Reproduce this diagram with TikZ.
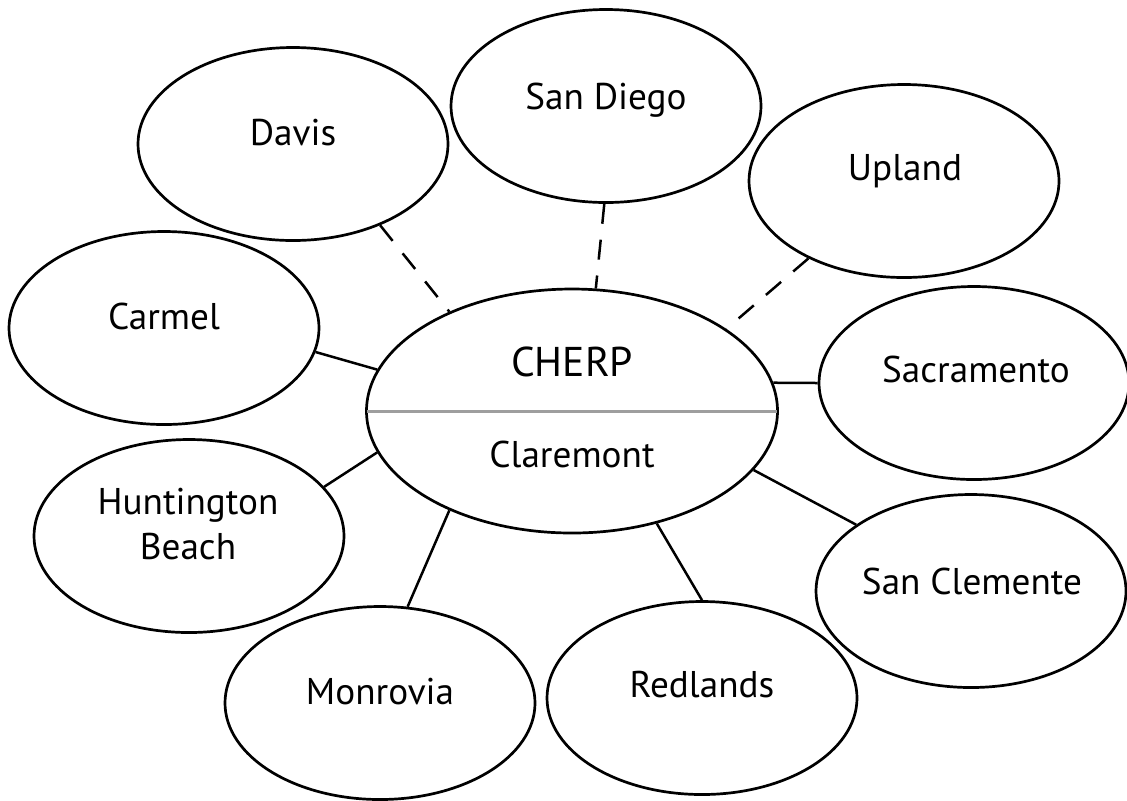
\documentclass[tikz,border=0pt]{standalone}
\usepackage{fontspec}
\setmainfont{PT Sans}
\usetikzlibrary{shapes.geometric}
\begin{document}
\begin{tikzpicture}[x=0.5pt,y=-0.5pt,
  city/.style={draw, ellipse, line width=1.35pt, minimum width=155pt, minimum height=96.5pt, inner sep=0pt},
  hub/.style={draw, ellipse, line width=1.35pt, minimum width=205.5pt, minimum height=122pt, inner sep=0pt},
  lbl/.style={anchor=base, inner sep=0pt, font=\fontsize{18.6}{22}\selectfont},
  biglbl/.style={anchor=base, inner sep=0pt, font=\fontsize{20.8}{25}\selectfont},
  link/.style={line width=1.25pt},
  dlink/.style={line width=1.25pt, dash pattern=on 10pt off 8pt},
  divider/.style={line width=1.5pt, black!38, shorten >=0.7pt, shorten <=0.7pt}]
\useasboundingbox (0,0) rectangle (1127,800);
% ellipses
\node[hub] (cherp) at (572,411) {};
\node[city] (davis) at (293,144) {};
\node[city] (sandiego) at (606,106) {};
\node[city] (upland) at (904,181) {};
\node[city] (carmel) at (164,328) {};
\node[city] (sacramento) at (974,383) {};
\node[city] (huntington) at (189,536) {};
\node[city] (sanclemente) at (971,591) {};
\node[city] (monrovia) at (380,703) {};
\node[city] (redlands) at (702,698) {};
% divider
\draw[divider] (cherp.west) -- (cherp.east);
% labels
\node[biglbl] (cherp-t) at (572,376) {CHERP};
\node[lbl] (claremont-t) at (572,467.5) {Claremont};
\node[lbl] (davis-t) at (293,145.5) {Davis};
\node[lbl] (sandiego-t) at (606,109.5) {San Diego};
\node[lbl] (upland-t) at (905,180.5) {Upland};
\node[lbl] (carmel-t) at (164,329.5) {Carmel};
\node[lbl] (sacramento-t) at (976,382.5) {Sacramento};
\node[lbl] (huntington-t) at (188,514.5) {Huntington};
\node[lbl] (beach-t) at (188,559.5) {Beach};
\node[lbl] (monrovia-t) at (380,704.5) {Monrovia};
\node[lbl] (redlands-t) at (702,697.5) {Redlands};
\node[lbl] (sanclemente-t) at (972,594.5) {San Clemente};
% connectors
\draw[dlink] (davis.-43.3) -- (cherp.141.1);
\draw[dlink] (sandiego.-91.2) -- (cherp.79.3);
\draw[dlink] (upland.-141) -- (cherp.28.1);
\draw[link] (carmel.-9.8) -- (cherp.168);
\draw[link] (sacramento.180) -- (cherp.8);
\draw[link] (huntington.20.8) -- (cherp.192.2);
\draw[link] (monrovia.74.8) -- (cherp.219.3);
\draw[link] (redlands.90.6) -- (cherp.-53);
\draw[link] (sanclemente.150.5) -- (cherp.-18);
\end{tikzpicture}
\end{document}
